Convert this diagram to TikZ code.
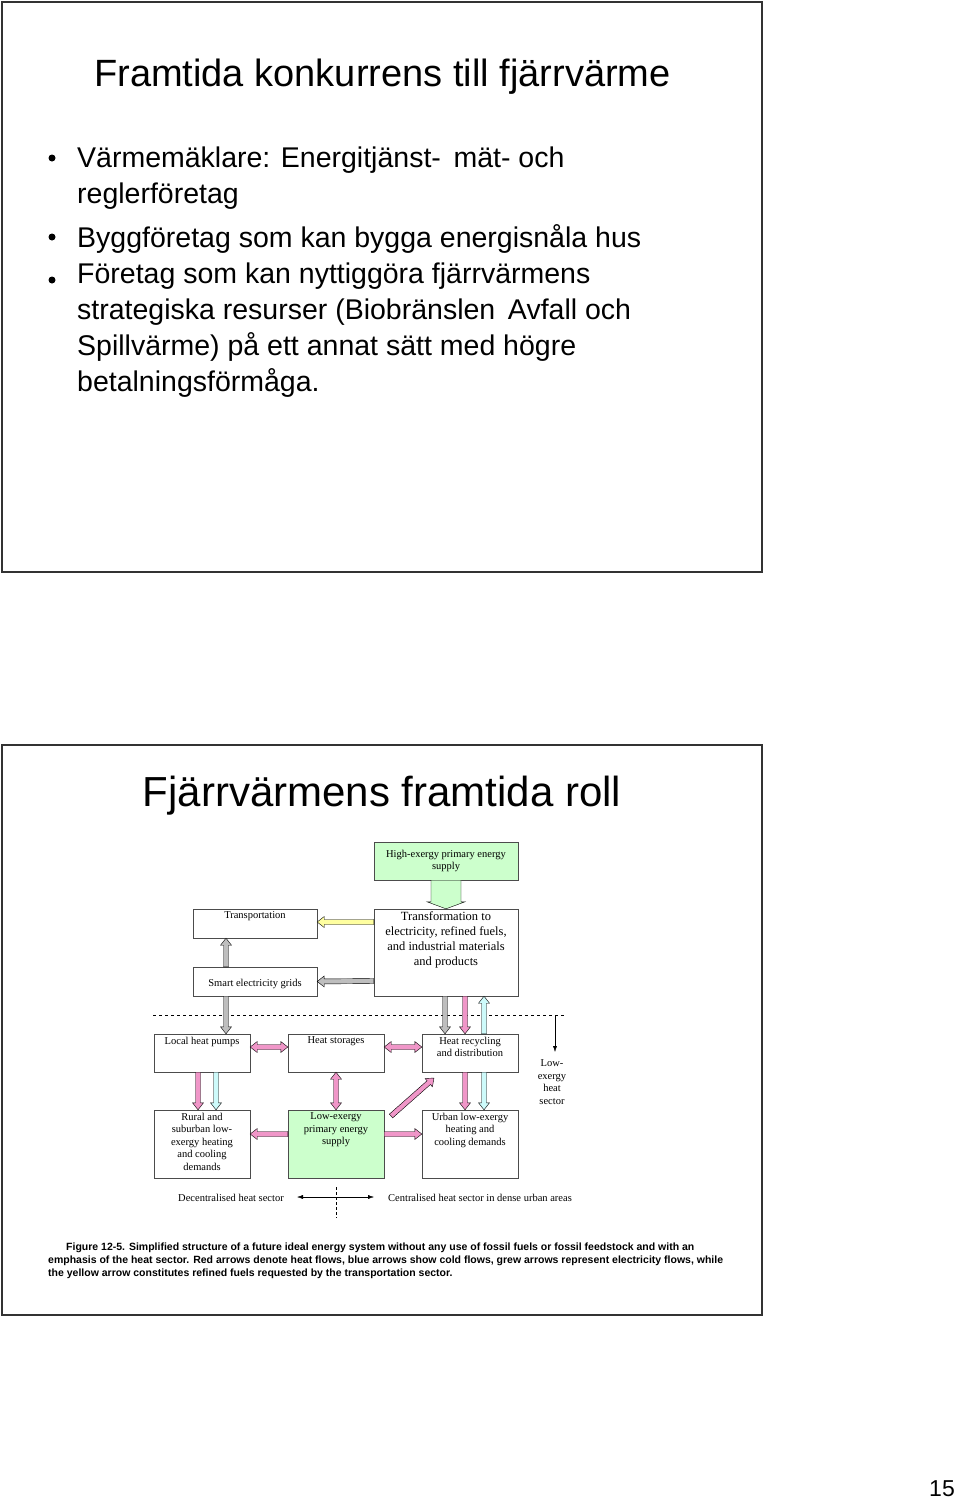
\documentclass[tikz,border=0pt]{standalone}
\usepackage{fontspec}
\setmainfont{Liberation Sans}
\newfontfamily\serf{Liberation Serif}
\usetikzlibrary{calc,positioning,arrows.meta}

% colours of the flows
\definecolor{heatpink}{RGB}{240,150,200}
\definecolor{coldcyan}{RGB}{205,250,250}
\definecolor{elgray}{RGB}{190,190,190}
\definecolor{fuelyel}{RGB}{255,255,160}
\definecolor{supgreen}{RGB}{204,255,204}

\newcommand{\dgfont}{\serf\fontsize{10.5}{12.5}\selectfont}

% block arrow: fill, half shaft, half head, head length, from, to
\newcommand{\blockarrow}[6]{%
  \coordinate (ba) at (#5); \coordinate (bb) at (#6);
  \coordinate (bh) at ($(bb)!#4!(ba)$);
  \draw[fill=#1,line join=miter]
    ($(ba)!#2!90:(bb)$) -- ($(bh)!#2!-90:(ba)$)
    -- ($(bh)!#3!-90:(ba)$) -- (bb)
    -- ($(bh)!#3!90:(ba)$) -- ($(bh)!#2!90:(ba)$)
    -- ($(ba)!#2!-90:(bb)$) -- cycle;}
% double block arrow
\newcommand{\dblarrow}[3]{%
  \coordinate (ba) at (#2); \coordinate (bb) at (#3);
  \coordinate (ha) at ($(ba)!7pt!(bb)$); \coordinate (hb) at ($(bb)!7pt!(ba)$);
  \draw[fill=#1,line join=miter]
    (ba) -- ($(ha)!5.5pt!90:(bb)$) -- ($(ha)!2.5pt!90:(bb)$)
    -- ($(hb)!2.5pt!-90:(ba)$) -- ($(hb)!5.5pt!-90:(ba)$)
    -- (bb) -- ($(hb)!5.5pt!90:(ba)$) -- ($(hb)!2.5pt!90:(ba)$)
    -- ($(ha)!2.5pt!-90:(bb)$) -- ($(ha)!5.5pt!-90:(bb)$) -- cycle;}

\begin{document}
\begin{tikzpicture}[x=1pt,y=-1pt
    , every node/.style={inner sep=1pt}
    , box/.style={draw=black!70,minimum width=96pt,minimum height=38pt,align=center,font=\dgfont}
    , toptext/.style={label={[font=\dgfont,align=center,anchor=north,yshift=-2pt]north:#1}}
    , bigtext/.style={label={[font=\serf\fontsize{12.5}{14.8}\selectfont,align=center,anchor=north,yshift=-2pt]north:#1}}
    , bullet/.style={anchor=base west,font=\fontsize{28.5}{36}\selectfont}
    , caption/.style={anchor=base west,font=\bfseries\fontsize{10.5}{13}\selectfont}
]
    \useasboundingbox (0,0) rectangle (960,1501);

    % first slide
    \draw[black!80,line width=1.2pt] (2,2) rectangle (762,572);
    \node[anchor=base west,font=\fontsize{38}{40}\selectfont] (title1) at (93,87) {Framtida konkurrens till fjärrvärme};
    \foreach \txt [count=\i] in {Värmemäklare: Energitjänst-\, mät- och,reglerföretag,,Byggföretag som kan bygga energisnåla hus,
        Företag som kan nyttiggöra fjärrvärmens,strategiska resurser (Biobränslen\, Avfall och,Spillvärme) på ett annat sätt med högre,betalningsförmåga.}
        \node[bullet] (line\i) at (76,{\i<4 ? 131+36*\i : 139+36*(\i-1)}) {\txt};
    \foreach \y in {158,237,280}
        \fill (52,\y) circle (3.5pt);

    % second slide
    \draw[black!80,line width=1.2pt] (2,745) rectangle (762,1315);
    \node[anchor=base,font=\fontsize{42}{44}\selectfont] (title2) at (382,806) {Fjärrvärmens framtida roll};

    % boxes
    \node[box,fill=supgreen,minimum width=144pt] (high) at (446,861) {High-exergy primary energy\\supply};
    \node[box,minimum width=124pt,minimum height=29pt,toptext={Transportation}] (transp) at (255,923.5) {};
    \node[box,minimum width=124pt,minimum height=29pt] (smart) at (255,981.5) {\\[-1pt]Smart electricity grids};
    \node[box,minimum width=144pt,minimum height=87pt,bigtext={Transformation to\\electricity, refined fuels,\\and industrial materials\\and products}] (trans) at (446,952.5) {};

    \node[box,toptext={Local heat pumps}] (local) at (202,1053) {};
    \node[box,toptext={Heat storages}] (stor) at (336,1053) {};
    \node[box,toptext={Heat recycling\\and distribution}] (recyc) at (470,1053) {};
    \node[box,minimum height=68pt,toptext={Rural and\\suburban low-\\exergy heating\\and cooling\\demands}] (rural) at (202,1144) {};
    \node[box,fill=supgreen,minimum height=68pt,toptext={Low-exergy\\primary energy\\supply}] (lowsup) at (336,1144) {};
    \node[box,minimum height=68pt,toptext={Urban low-exergy\\heating and\\cooling demands}] (urban) at (470,1144) {};

    \node[align=center,font=\dgfont] (lowsec) at (552,1082) {Low-\\exergy\\heat\\sector};

    % border between supply side and heat sector
    \coordinate (dl) at (153,1015);
    \coordinate (dr) at (566,1015);
    \draw[dashed,thick] (dl) -- (dr);
    \coordinate (vt) at (555,1015);
    \coordinate (vb) at (555,1052);
    \draw[-{Latex[length=6pt,width=4pt]}] (vt) -- (vb);

    % electricity and fuels
    \blockarrow{supgreen}{15pt}{19pt}{7pt}{high.south}{trans.north}
    \blockarrow{fuelyel}{2.5pt}{5.5pt}{7pt}{[yshift=30.5pt]trans.west}{[yshift=1.5pt]transp.east}
    \blockarrow{elgray}{2.5pt}{5.5pt}{7pt}{[yshift=-28.5pt]trans.west}{smart.east}
    \blockarrow{elgray}{2.5pt}{5.5pt}{7pt}{[xshift=-29pt]smart.north}{[xshift=-29pt]transp.south}
    \blockarrow{elgray}{2.5pt}{5.5pt}{7pt}{[xshift=-29pt]smart.south}{[xshift=24pt]local.north}
    \blockarrow{elgray}{2.5pt}{5.5pt}{7pt}{[xshift=-1pt]trans.south}{[xshift=-25pt]recyc.north}
    \blockarrow{heatpink}{2.5pt}{5.5pt}{7pt}{[xshift=19pt]trans.south}{[xshift=-5pt]recyc.north}
    \blockarrow{coldcyan}{2.5pt}{5.5pt}{7pt}{[xshift=14pt]recyc.north}{[xshift=38pt]trans.south}

    % heat and cold flows
    \dblarrow{heatpink}{[yshift=6pt]local.east}{[yshift=6pt]stor.west}
    \dblarrow{heatpink}{[yshift=6pt]stor.east}{[yshift=6pt]recyc.west}
    \dblarrow{heatpink}{stor.south}{lowsup.north}
    \blockarrow{heatpink}{2.5pt}{5.5pt}{7pt}{[xshift=-4pt]local.south}{[xshift=-4pt]rural.north}
    \blockarrow{coldcyan}{2.5pt}{5.5pt}{7pt}{[xshift=14pt]local.south}{[xshift=14pt]rural.north}
    \blockarrow{heatpink}{2.5pt}{5.5pt}{7pt}{[xshift=-5pt]recyc.south}{[xshift=-5pt]urban.north}
    \blockarrow{coldcyan}{2.5pt}{5.5pt}{7pt}{[xshift=14pt]recyc.south}{[xshift=14pt]urban.north}
    \blockarrow{heatpink}{2.5pt}{5.5pt}{7pt}{[yshift=10pt]lowsup.west}{[yshift=10pt]rural.east}
    \blockarrow{heatpink}{2.5pt}{5.5pt}{7pt}{[yshift=10pt]lowsup.east}{[yshift=10pt]urban.west}
    \coordinate (dgs) at (391,1116);
    \coordinate (dge) at (434,1078);
    \blockarrow{heatpink}{2.5pt}{5.5pt}{7pt}{dgs}{dge}

    % decentral / central
    \node[font=\dgfont] (decen) at (231,1198) {Decentralised heat sector};
    \node[font=\dgfont] (cen) at (480,1198) {Centralised heat sector in dense urban areas};
    \coordinate (al) at (297,1197);
    \coordinate (ar) at (374,1197);
    \draw[{Latex[length=6pt,width=4pt]}-{Latex[length=6pt,width=4pt]}] (al) -- (ar);
    \coordinate (st) at (336,1187);
    \coordinate (sb) at (336,1218);
    \draw[densely dashed] (st) -- (sb);

    % caption
    \node[caption] (cap1) at (65,1250) {Figure 12-5. Simplified structure of a future ideal energy system without any use of fossil fuels or fossil feedstock and with an};
    \node[caption] (cap2) at (47,1263) {emphasis of the heat sector. Red arrows denote heat flows, blue arrows show cold flows, grew arrows represent electricity flows, while};
    \node[caption] (cap3) at (47,1276) {the yellow arrow constitutes refined fuels requested by the transportation sector.};

    \node[font=\fontsize{23}{26}\selectfont] (page) at (942,1489) {15};
\end{tikzpicture}
\end{document}
